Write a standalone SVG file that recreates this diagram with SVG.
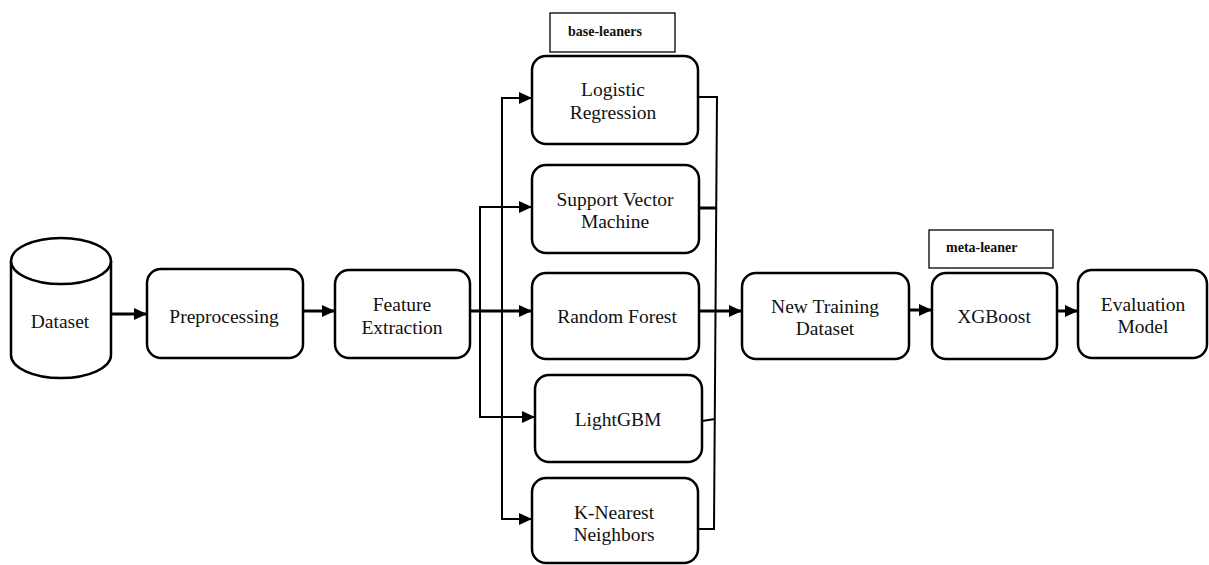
<svg xmlns="http://www.w3.org/2000/svg" width="1209" height="565" viewBox="0 0 1209 565">
<style>
.box{fill:#fff;stroke:#000;stroke-width:2.5}
.lbl{fill:#fff;stroke:#000;stroke-width:1.3}
.t{font-family:"Liberation Serif","DejaVu Serif",serif;font-size:19.5px;fill:#111;text-anchor:middle}
.b{font-family:"Liberation Serif","DejaVu Serif",serif;font-size:14px;font-weight:bold;fill:#111}
.c{fill:none;stroke:#000;stroke-width:2}
.ct{fill:none;stroke:#000;stroke-width:3}
</style>
<defs>
<marker id="ah" markerUnits="userSpaceOnUse" viewBox="0 0 13 12" refX="13" refY="6" markerWidth="13" markerHeight="12" orient="auto">
<path d="M0,0 L13,6 L0,12 Z" fill="#000"/>
</marker>
</defs>
<rect width="1209" height="565" fill="#fff"/>

<g id="connectors">
<path class="ct" d="M111,314 H147" marker-end="url(#ah)"/>
<path class="ct" d="M303,311 H335" marker-end="url(#ah)"/>
<path class="ct" d="M470,311 H532" marker-end="url(#ah)"/>
<path class="c" d="M480,311 V207 H532" marker-end="url(#ah)"/>
<path class="c" d="M480,311 V417 H535" marker-end="url(#ah)"/>
<path class="c" d="M502,311 V98 H532" marker-end="url(#ah)"/>
<path class="c" d="M502,311 V519 H532" marker-end="url(#ah)"/>
<path class="c" d="M698,97 H717 L714,529 H698"/>
<path class="ct" d="M699,208 H716"/>
<path class="ct" d="M699,311 H742" marker-end="url(#ah)"/>
<path class="c" d="M702,421 L715,419"/>
<path class="ct" d="M909,310 H932" marker-end="url(#ah)"/>
<path class="ct" d="M1057,311 H1078" marker-end="url(#ah)"/>
</g>

<g id="dataset">
<path class="box" d="M11,261 L11,355 A50,23 0 0 0 111,355 L111,261"/>
<ellipse class="box" cx="61" cy="261" rx="50" ry="23"/>
<text class="t" x="60" y="328">Dataset</text>
</g>

<g id="preprocessing">
<rect class="box" x="147" y="269" width="156" height="89" rx="14"/>
<text class="t" x="224" y="323">Preprocessing</text>
</g>

<g id="feature-extraction">
<rect class="box" x="335" y="270" width="135" height="88" rx="14"/>
<text class="t" x="402" y="311">Feature</text>
<text class="t" x="402" y="334">Extraction</text>
</g>

<g id="base-leaners-label">
<rect class="lbl" x="550" y="13" width="125" height="39"/>
<text class="b" x="568" y="36">base-leaners</text>
</g>

<g id="logistic-regression">
<rect class="box" x="532" y="56" width="166" height="88" rx="14"/>
<text class="t" x="613" y="96">Logistic</text>
<text class="t" x="613" y="119">Regression</text>
</g>

<g id="svm">
<rect class="box" x="532" y="165" width="167" height="88" rx="14"/>
<text class="t" x="615" y="206">Support Vector</text>
<text class="t" x="615" y="228">Machine</text>
</g>

<g id="random-forest">
<rect class="box" x="532" y="273" width="167" height="86" rx="14"/>
<text class="t" x="617" y="323">Random Forest</text>
</g>

<g id="lightgbm">
<rect class="box" x="535" y="375" width="167" height="87" rx="14"/>
<text class="t" x="618" y="426">LightGBM</text>
</g>

<g id="knn">
<rect class="box" x="532" y="478" width="166" height="85" rx="14"/>
<text class="t" x="614" y="519">K-Nearest</text>
<text class="t" x="614" y="541">Neighbors</text>
</g>

<g id="new-training-dataset">
<rect class="box" x="742" y="273" width="167" height="86" rx="14"/>
<text class="t" x="825" y="313">New Training</text>
<text class="t" x="825" y="335">Dataset</text>
</g>

<g id="meta-leaner-label">
<rect class="lbl" x="929" y="230" width="124" height="38"/>
<text class="b" x="946" y="252">meta-leaner</text>
</g>

<g id="xgboost">
<rect class="box" x="932" y="273" width="125" height="86" rx="14"/>
<text class="t" x="994" y="323">XGBoost</text>
</g>

<g id="evaluation-model">
<rect class="box" x="1078" y="270" width="129" height="88" rx="14"/>
<text class="t" x="1143" y="311">Evaluation</text>
<text class="t" x="1143" y="333">Model</text>
</g>
</svg>
